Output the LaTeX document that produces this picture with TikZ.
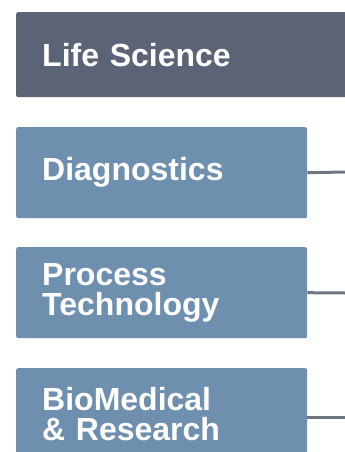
\documentclass[tikz,border=0pt]{standalone}
\usepackage{fontspec}
\setmainfont{Liberation Sans}
\usetikzlibrary{positioning}
\definecolor{darkslate}{HTML}{5A6476}
\definecolor{steelbox}{HTML}{6E90AE}
\definecolor{linkgray}{HTML}{6F7680}

\begin{document}
\begin{tikzpicture}[x=1pt, y=-1pt,
		catbox/.style={fill=steelbox, rounded corners=2pt, minimum width=291pt, minimum height=91pt, text width=239pt, inner xsep=26pt, align=left, text=white, font=\bfseries\fontsize{32}{30}\selectfont},
		topbox/.style={catbox, fill=darkslate, minimum width=345pt, text width=293pt, minimum height=85pt},
		link/.style={draw=linkgray, line width=3pt}]
		\useasboundingbox (0, 0) rectangle (345, 452);
		\clip (0, 0) rectangle (345, 452);
		\node[topbox, anchor=north west] (life) at (16, 12) {Life Science};
		\node[catbox, anchor=north west] (diag) at (16, 127) {Diagnostics};
		\node[catbox, anchor=north west] (proc) at (16, 247) {Process\\Technology};
		\node[catbox, anchor=north west] (bio) at (16, 368) {BioMedical\\\& Research};
		\coordinate (diagend) at (345, 172);
		\coordinate (procend) at (345, 293);
		\coordinate (bioend) at (345, 417);
		\draw[link] (diag.east) -- (diagend);
		\draw[link] (proc.east) -- (procend);
		\draw[link] (bio.east |- bioend) -- (bioend);
	\end{tikzpicture}
\end{document}
